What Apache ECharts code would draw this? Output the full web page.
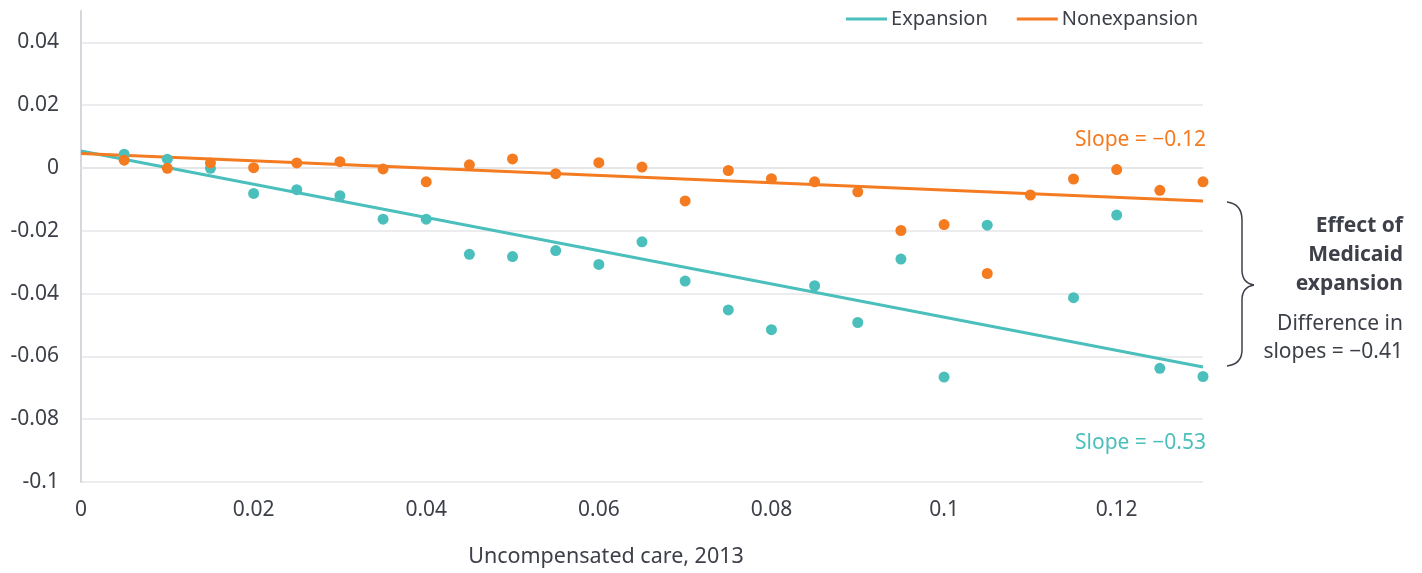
<!DOCTYPE html>
<html>
<head>
<meta charset="utf-8">
<script src="https://cdn.jsdelivr.net/npm/echarts@6/dist/echarts.min.js"></script>
<style>
html,body{margin:0;padding:0;background:#fff;}
#chart{width:1422px;height:573px;}
</style>
</head>
<body>
<div id="chart"></div>
<script>
// Data
const xValues = [0.005,0.01,0.015,0.02,0.025,0.03,0.035,0.04,0.045,0.05,0.055,0.06,0.065,0.07,0.075,0.08,0.085,0.09,0.095,0.1,0.105,0.11,0.115,0.12,0.125,0.13];
const expansionValues = [0.0044,0.0028,-0.0001,-0.0081,-0.0069,-0.0088,-0.0163,-0.0163,-0.0275,-0.0282,-0.0263,-0.0307,-0.0235,-0.0360,-0.0452,-0.0515,-0.0375,-0.0492,-0.0290,-0.0666,-0.0182,null,-0.0413,-0.0150,-0.0638,-0.0664];
const nonexpansionValues = [0.0025,-0.0001,0.0016,0.0001,0.0016,0.0020,-0.0003,-0.0044,0.0010,0.0029,-0.0018,0.0017,0.0003,-0.0105,-0.0008,-0.0034,-0.0044,-0.0076,-0.0199,-0.0180,-0.0336,-0.0086,-0.0035,-0.0005,-0.0071,-0.0044];
const trendX = [0, 0.13];
const expansionTrend = [0.0054, -0.0634];
const nonexpansionTrend = [0.0046, -0.0105];
const seriesNames = ['Expansion', 'Nonexpansion'];
const slopeLabels = ['Slope = \u22120.53', 'Slope = \u22120.12'];
const effectLines = ['Effect of', 'Medicaid', 'expansion'];
const diffLines = ['Difference in', 'slopes = \u22120.41'];
const xAxisTitle = 'Uncompensated care, 2013';

const TEAL = '#4bbfbb';
const ORANGE = '#f47b20';
const TEXT = '#3d4048';
const FONT = '"Noto Sans", "Open Sans", sans-serif';

function pairs(xs, ys){ const out=[]; xs.forEach((x,i)=>{ if(ys[i]!==null) out.push([x, ys[i]]); }); return out; }

const braceStyle = { stroke: TEXT, lineWidth: 1.5, fill: null };
function curve(x1,y1,cx,cy,x2,y2){ return { type: 'bezierCurve', shape: { x1:x1, y1:y1, cpx1:cx, cpy1:cy, x2:x2, y2:y2 }, style: braceStyle }; }
function seg(x1,y1,x2,y2){ return { type: 'line', shape: { x1:x1, y1:y1, x2:x2, y2:y2 }, style: braceStyle }; }
function label(text, x, y, color, weight){
  return { type: 'text', style: { text: text, x: x, y: y, fill: color, font: (weight || 'normal') + ' 21px ' + FONT, align: 'right', verticalAlign: 'middle', textAlign: 'right', textVerticalAlign: 'middle' } };
}

const chart = echarts.init(document.getElementById('chart'));
const option = {
  backgroundColor: '#fff',
  animation: false,
  textStyle: { fontFamily: FONT },
  grid: { left: 81, right: 219, top: 11, bottom: 91 },
  legend: {
    right: 219, top: 4,
    itemWidth: 41, itemHeight: 3, itemGap: 29,
    icon: 'rect',
    data: seriesNames,
    textStyle: { fontSize: 20, color: TEXT, fontFamily: FONT, padding: [0, 0, 0, -1] }
  },
  xAxis: {
    type: 'value', min: 0, max: 0.13, interval: 0.02,
    name: xAxisTitle, nameLocation: 'middle', nameGap: 64,
    nameTextStyle: { fontSize: 21.5, color: TEXT, fontFamily: FONT, padding: [0, 72, 0, 0] },
    axisLine: { show: true, lineStyle: { color: '#e3e3e6', width: 1.5 } },
    axisTick: { show: false },
    splitLine: { show: false },
    axisLabel: { fontSize: 21, color: TEXT, margin: 18, showMaxLabel: false, fontFamily: FONT }
  },
  yAxis: {
    type: 'value', min: -0.1, max: 0.05, interval: 0.02,
    axisLine: { show: true, lineStyle: { color: '#d6d6dc', width: 2 } },
    axisTick: { show: false },
    splitLine: { show: true, showMaxLine: false, lineStyle: { color: '#e6e6e8', width: 1.5 } },
    axisLabel: { fontSize: 21, color: TEXT, margin: 22, showMaxLabel: false, fontFamily: FONT }
  },
  series: [
    { name: 'Expansion', type: 'line', data: pairs(trendX, expansionTrend), symbol: 'none',
      lineStyle: { color: TEAL, width: 3 }, itemStyle: { color: TEAL }, z: 3 },
    { name: 'Nonexpansion', type: 'line', data: pairs(trendX, nonexpansionTrend), symbol: 'none',
      lineStyle: { color: ORANGE, width: 3 }, itemStyle: { color: ORANGE }, z: 3 },
    { name: 'Expansion points', type: 'scatter', data: pairs(xValues, expansionValues), symbolSize: 11,
      itemStyle: { color: TEAL, opacity: 1 }, z: 4 },
    { name: 'Nonexpansion points', type: 'scatter', data: pairs(xValues, nonexpansionValues), symbolSize: 11,
      itemStyle: { color: ORANGE, opacity: 1 }, z: 5 }
  ],
  graphic: [
    label(slopeLabels[1], 1206, 140, ORANGE),
    label(slopeLabels[0], 1206, 443, TEAL),
    curve(1227,202,1242,204,1242,220),
    seg(1242,220,1242,270),
    curve(1242,270,1242,283,1254,285),
    curve(1254,285,1242,287,1242,300),
    seg(1242,300,1242,350),
    curve(1242,350,1242,364,1227,366),
    label(effectLines[0], 1403, 226, TEXT, 'bold'),
    label(effectLines[1], 1403, 255, TEXT, 'bold'),
    label(effectLines[2], 1403, 284, TEXT, 'bold'),
    label(diffLines[0], 1403, 324, TEXT),
    label(diffLines[1], 1403, 352, TEXT)
  ]
};
chart.setOption(option);
</script>
</body>
</html>
